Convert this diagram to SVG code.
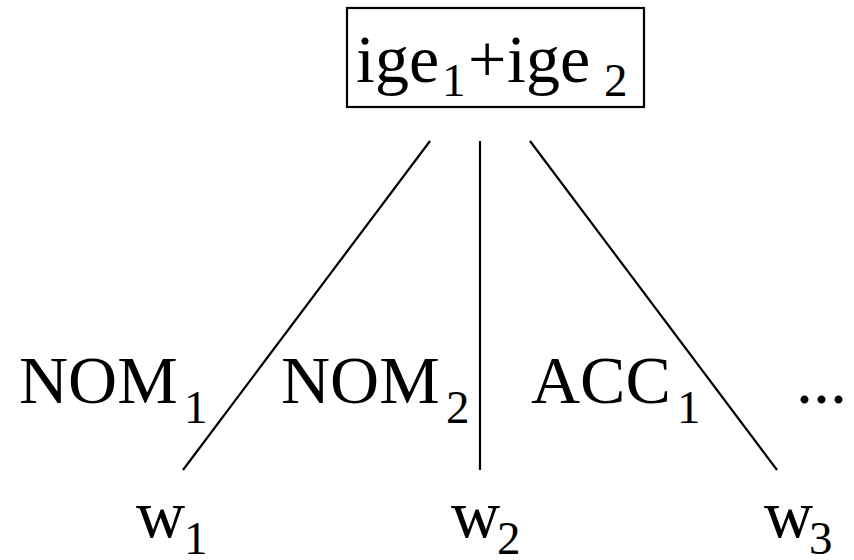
<svg xmlns="http://www.w3.org/2000/svg" width="854" height="560" viewBox="0 0 854 560">
<style>
text { font-family: "Liberation Serif", "Times New Roman", serif; fill: #000; }
.m { font-size: 68px; }
.s { font-size: 47px; }
.edge { stroke: #000; stroke-width: 2.2; fill: none; }
</style>
<rect width="854" height="560" fill="#fff"/>
<g id="connectors">
<line class="edge" x1="430" y1="141" x2="183" y2="470"/>
<line class="edge" x1="480" y1="141" x2="480" y2="470"/>
<line class="edge" x1="530" y1="141" x2="777" y2="470"/>
</g>
<g id="root">
<rect x="347" y="8" width="297" height="99" fill="#fff" stroke="#000" stroke-width="2.2"/>
<text class="m" x="356" y="82">ige</text>
<text class="s" x="442" y="96">1</text>
<text class="m" x="468" y="82">+</text>
<text class="m" x="507" y="82">ige</text>
<text class="s" x="604" y="96">2</text>
</g>
<g id="label-nom1">
<text class="m" x="19" y="403">NOM</text>
<text class="s" x="184" y="423">1</text>
</g>
<g id="label-nom2">
<text class="m" x="281" y="403">NOM</text>
<text class="s" x="446" y="423">2</text>
</g>
<g id="label-acc1">
<text class="m" x="531" y="403">ACC</text>
<text class="s" x="677" y="423">1</text>
</g>
<g id="label-more">
<text class="m" x="796" y="403">...</text>
</g>
<g id="w1">
<text class="m" x="136" y="537">w</text>
<text class="s" x="184" y="554">1</text>
</g>
<g id="w2">
<text class="m" x="451" y="537">w</text>
<text class="s" x="497" y="554">2</text>
</g>
<g id="w3">
<text class="m" x="764" y="537">w</text>
<text class="s" x="809" y="554">3</text>
</g>
</svg>
